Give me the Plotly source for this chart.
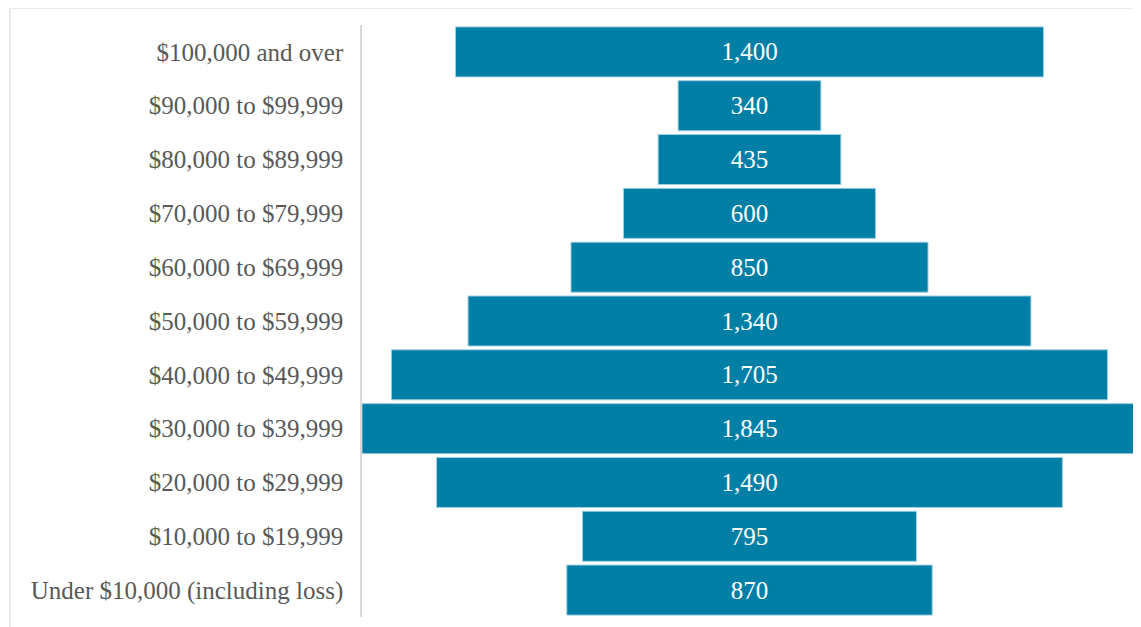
import plotly.graph_objects as go

categories = [
    "$100,000 and over",
    "$90,000 to $99,999",
    "$80,000 to $89,999",
    "$70,000 to $79,999",
    "$60,000 to $69,999",
    "$50,000 to $59,999",
    "$40,000 to $49,999",
    "$30,000 to $39,999",
    "$20,000 to $29,999",
    "$10,000 to $19,999",
    "Under $10,000 (including loss)",
]
values = [1400, 340, 435, 600, 850, 1340, 1705, 1845, 1490, 795, 870]

FONT = "Liberation Serif"
W, H = 1141, 627
ml, mr, mt, mb = 354, 12, 17, 18

fig = go.Figure(go.Funnel(
    y=categories,
    x=values,
    texttemplate="%{x:,}",
    textposition="inside",
    insidetextanchor="middle",
    textfont=dict(family=FONT, size=25, color="white"),
    marker=dict(color="#007fa6", line=dict(color="#9fd0e0", width=1)),
    connector=dict(visible=False),
    width=0.93,
    hoverinfo="x+y",
))

pw = W - ml - mr
ph = H - mt - mb
half = max(values) / 2

fig.update_layout(
    width=W, height=H,
    margin=dict(l=ml, r=mr, t=mt, b=mb),
    paper_bgcolor="white",
    plot_bgcolor="white",
    showlegend=False,
    font=dict(family=FONT, size=25, color="#595959"),
    xaxis=dict(visible=False, range=[-half, half]),
    yaxis=dict(
        showline=True, linecolor="#d9d9d9", linewidth=1.5,
        showgrid=False, ticks="", ticklabelstandoff=12,
        tickfont=dict(family=FONT, size=25, color="#595959"),
    ),
    shapes=[dict(
        type="rect", xref="paper", yref="paper",
        x0=(10 - 362) / pw, x1=1.2,
        y0=-0.2, y1=(617 - 8) / ph,
        line=dict(color="#e3e3e3", width=1.5),
        fillcolor="rgba(0,0,0,0)", layer="below",
    )],
)

fig.write_html("out.html")
